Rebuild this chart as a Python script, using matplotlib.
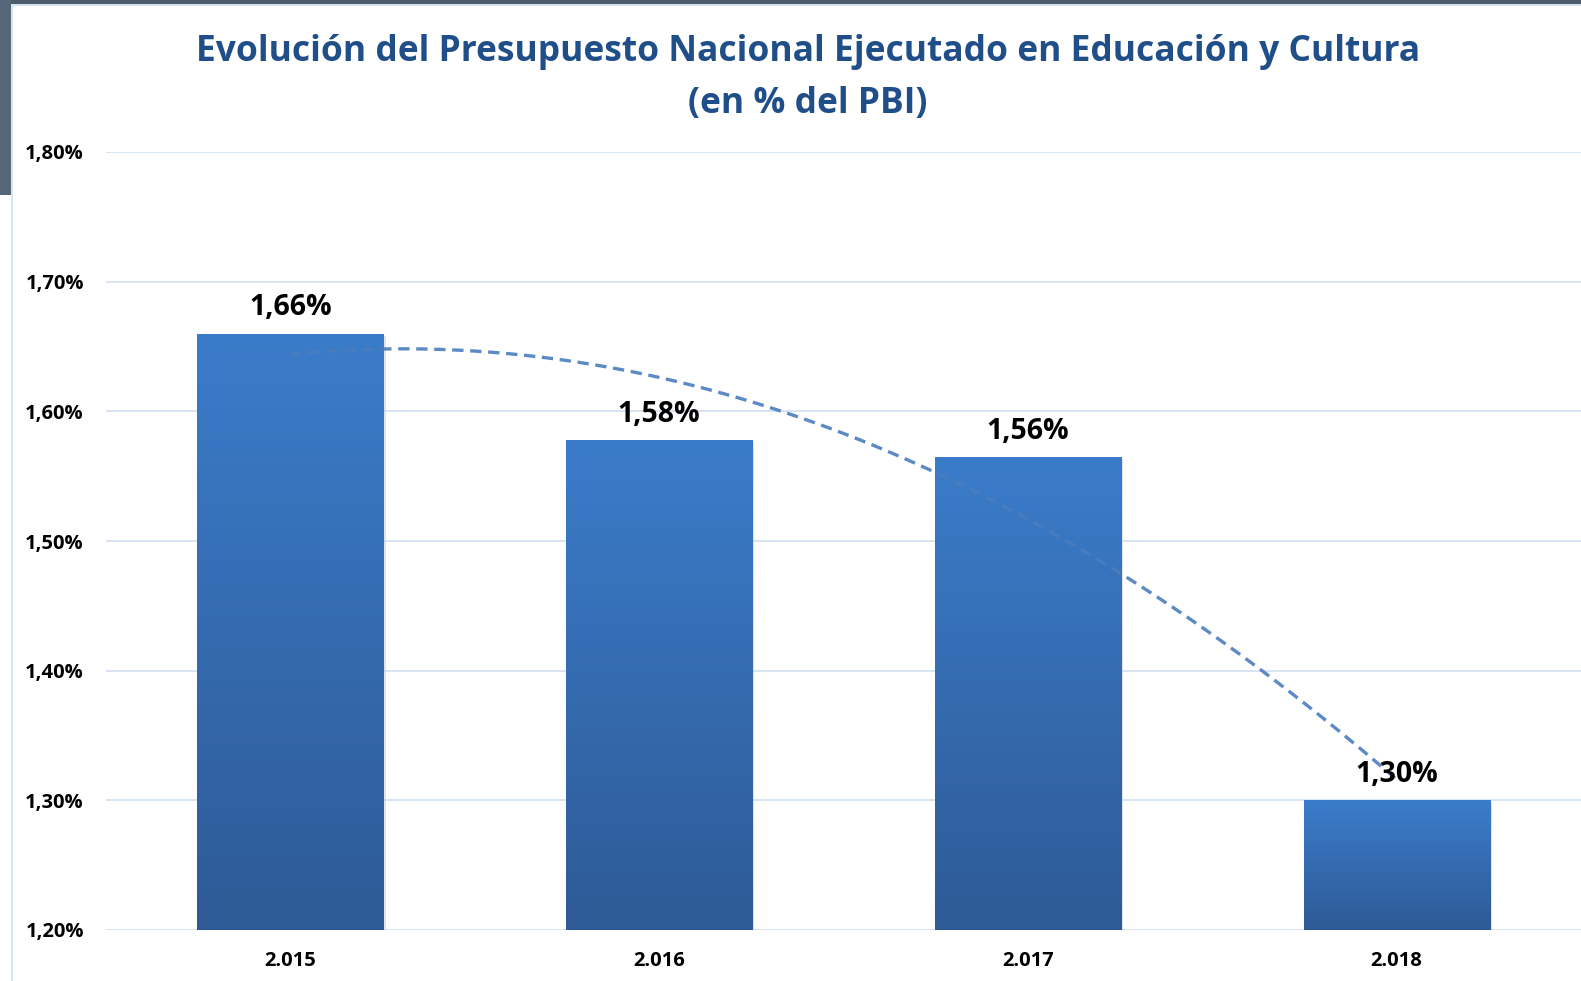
import numpy as np
import matplotlib
matplotlib.use("Agg")
import matplotlib.pyplot as plt
from matplotlib.patches import Rectangle
from matplotlib.colors import LinearSegmentedColormap

# ---- data ----
years = ["2.015", "2.016", "2.017", "2.018"]
values = [1.66, 1.578, 1.565, 1.30]
value_labels = ["1,66%", "1,58%", "1,56%", "1,30%"]
yticks = [1.20, 1.30, 1.40, 1.50, 1.60, 1.70, 1.80]
ytick_labels = ["1,20%", "1,30%", "1,40%", "1,50%", "1,60%", "1,70%", "1,80%"]
title1 = "Evolución del Presupuesto Nacional Ejecutado en Educación y Cultura"
title2 = "(en % del PBI)"

W, H = 1581, 981
fig = plt.figure(figsize=(W / 100, H / 100), dpi=100)
fig.patch.set_facecolor("white")

FONT = ["Open Sans", "DejaVu Sans"]

# axes placement (pixels)
ax_left, ax_right = 106, 1581
ax_top, ax_bottom = 152, 930
ax = fig.add_axes([ax_left / W, (H - ax_bottom) / H, (ax_right - ax_left) / W, (ax_bottom - ax_top) / H])
ax.set_facecolor("none")

x = np.arange(len(years))
bars = ax.bar(x, values, width=0.505, color="#3A78C4", zorder=2, linewidth=0)

ax.set_xlim(-0.5, 3.5)
ax.set_ylim(1.20, 1.80)

# gradient fill on bars
cmap = LinearSegmentedColormap.from_list("g", ["#2E5A96", "#3B7CCA"])
grad = np.linspace(0, 1, 256).reshape(-1, 1)
for b in bars:
    bx, by = b.get_x(), b.get_y()
    bw, bh = b.get_width(), b.get_height()
    sh = Rectangle((bx + 0.006, by), bw, bh - 0.002, facecolor="#c8c8c8", alpha=0.5,
                   zorder=1.9, linewidth=0)
    ax.add_patch(sh)
    im = ax.imshow(grad, extent=[bx, bx + bw, ax.get_ylim()[0], by + bh], origin="lower",
                   cmap=cmap, aspect="auto", zorder=2.1, interpolation="bicubic")
    im.set_clip_path(b)

ax.set_xlim(-0.5, 3.5)
ax.set_ylim(1.20, 1.80)

# gridlines
ax.set_yticks(yticks)
ax.set_yticklabels(ytick_labels)
ax.yaxis.grid(True, color="#D5E2F2", linewidth=1.3, zorder=0)
ax.set_axisbelow(True)
for s in ax.spines.values():
    s.set_visible(False)
ax.tick_params(axis="y", length=0, pad=16, labelsize=14.5)
ax.tick_params(axis="x", length=0, pad=15, labelsize=14.5)
ax.set_xticks(x)
ax.set_xticklabels(years)
for lab in ax.get_yticklabels() + ax.get_xticklabels():
    lab.set_fontfamily(FONT)
    lab.set_fontweight("bold")
    lab.set_color("black")

# polynomial (order 2) trendline
coef = np.polyfit(x, values, 2)
xs = np.linspace(0, 3, 200)
ax.plot(xs, np.polyval(coef, xs), color="#4A7DBE", linewidth=2.4, dashes=(3.4, 2.0),
        zorder=3, alpha=0.9)

# value labels
for xi, v, lab in zip(x, values, value_labels):
    ax.annotate(lab, (xi, v), xytext=(0, 13), textcoords="offset points", ha="center",
                va="baseline", fontsize=20.5, fontweight="bold", fontfamily=FONT,
                color="black", zorder=4)

# title
t1 = fig.text(808 / W, 1 - 52 / H, title1, ha="center", va="center", fontsize=28,
              fontweight="bold", color="#1F4E89", fontfamily=FONT)
t2 = fig.text(808 / W, 1 - 104 / H, title2, ha="center", va="center", fontsize=28,
              fontweight="bold", color="#1F4E89", fontfamily=FONT)
fig.canvas.draw()
r = fig.canvas.get_renderer()
w1 = t1.get_window_extent(r).width
scale = 1221 / w1
t1.set_fontsize(28 * scale)
t2.set_fontsize(28 * scale)

# slide frame decorations
fig.patches.append(Rectangle((0, 1 - 4 / H), 1, 4 / H, transform=fig.transFigure,
                             facecolor="#4C5C6A", edgecolor="none", zorder=5))
fig.patches.append(Rectangle((0, 1 - 6 / H), 1, 2 / H, transform=fig.transFigure,
                             facecolor="#D6E3F3", edgecolor="none", zorder=5))
fig.patches.append(Rectangle((0, 1 - 195 / H), 11 / W, 195 / H, transform=fig.transFigure,
                             facecolor="#56677A", edgecolor="none", zorder=5))
fig.patches.append(Rectangle((11 / W, 0), 2 / W, 1 - 4 / H, transform=fig.transFigure,
                             facecolor="#D6E3F3", edgecolor="none", zorder=5))

fig.savefig("out.png", dpi=100, facecolor="white")
